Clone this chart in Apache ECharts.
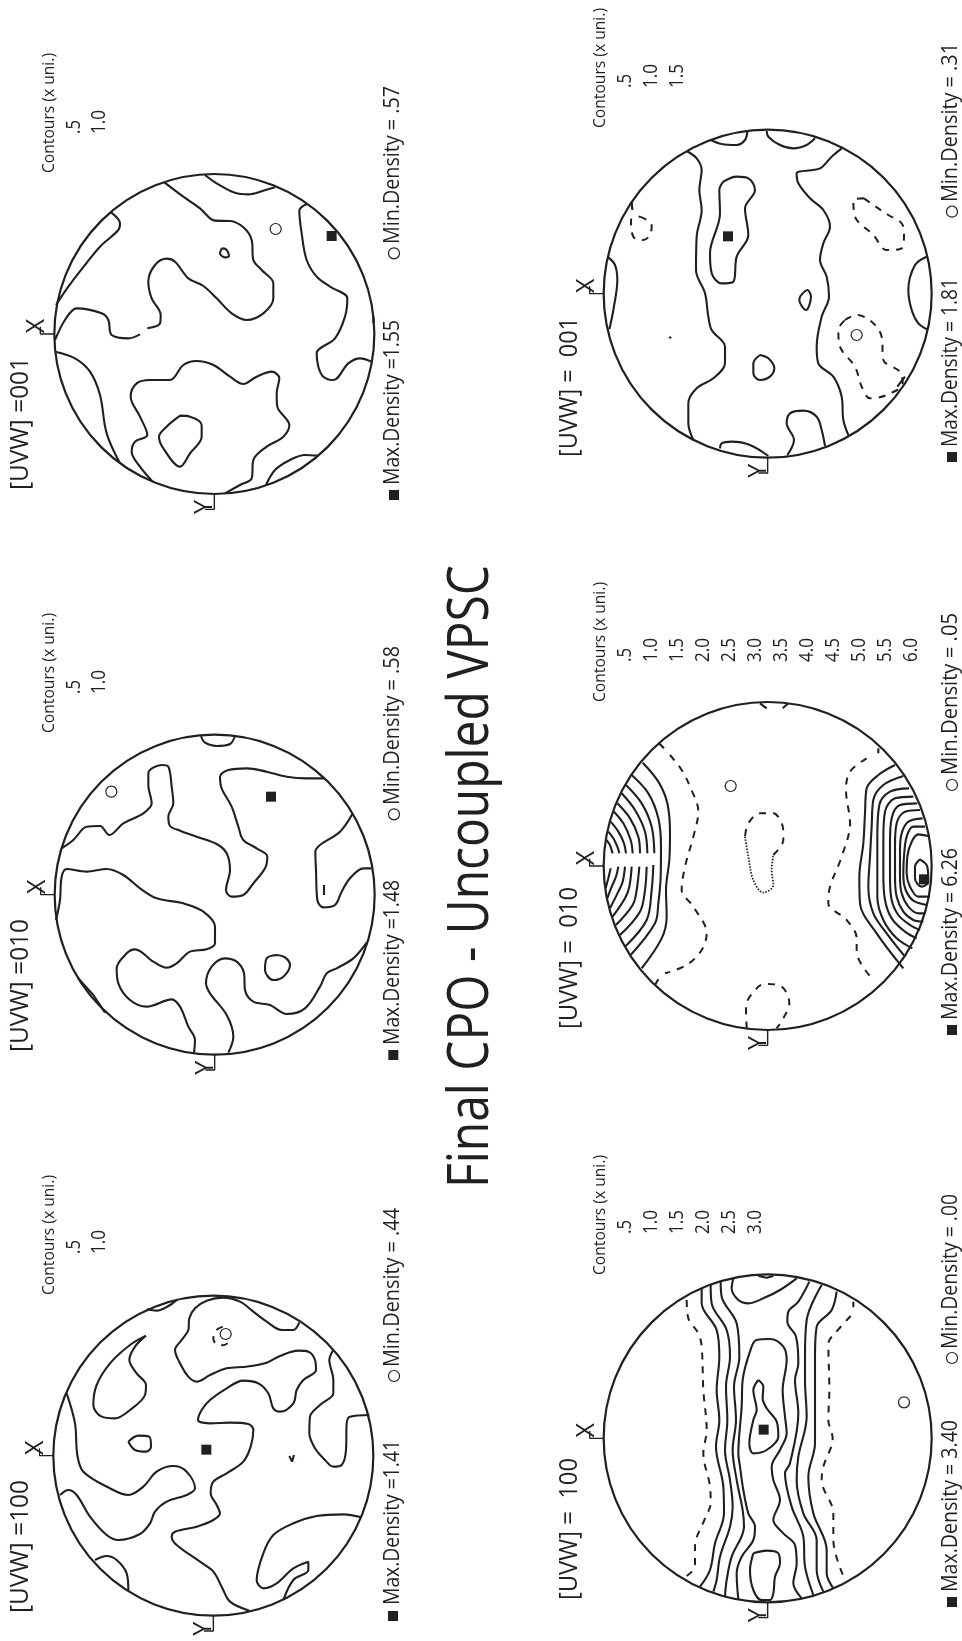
<!DOCTYPE html>
<html><head><meta charset="utf-8">
<style>html,body{margin:0;padding:0;background:#fff}#c{width:962px;height:1641px}</style>
<script src="https://cdn.jsdelivr.net/npm/echarts@6/dist/echarts.min.js"></script>
</head><body><div id="c"></div>
<script>
// ---------- contour traces (stereonet units, 3 per pixel) ----------
const uvw100a = [
 [[320,358],[350,362],[385,348],[412,328]],
 [[778,397],[760,420],[725,420],[680,395],[640,365],[600,335],[550,323],[500,332],[465,355],[448,385],[445,420],[425,450],[405,480],[420,520],[445,560],[470,575],[510,555],[560,535],[620,530],[680,518],[720,498],[775,482],[805,485],[825,510],[828,540],[790,570],[770,600],[760,640],[720,665],[700,655],[685,610],[655,580],[610,572],[560,595],[510,630],[485,660],[474,690],[510,700],[570,698],[625,702],[640,720],[632,770],[610,815],[560,850],[520,875],[512,910],[530,945],[540,970],[520,990],[470,1010],[405,1025],[395,1040],[410,1065],[480,1115],[520,1145],[545,1190],[570,1235],[628,1262]],
 [[60,915],[85,900],[110,915],[150,980],[200,1035],[235,1050],[300,1032],[330,1000],[345,965],[380,935],[440,915],[465,895],[440,845],[400,828],[350,845],[310,890],[265,915],[210,895],[130,845],[112,795],[105,700],[80,610]],
 [[318,437],[270,465],[210,520],[170,585],[160,645],[185,680],[225,685],[270,660],[315,615],[318,585],[290,550],[268,510],[285,470],[318,437]],
 [[265,755],[295,737],[328,740],[333,770],[318,785],[285,780],[265,755]],
 [[880,480],[868,510],[880,570],[880,610],[840,645],[810,680],[808,730],[825,775],[855,810],[880,830],[905,825],[918,780],[920,700],[930,680],[988,675]],
 [[748,798],[756,815],[762,795]],
 [[965,982],[910,973],[830,978],[760,1000],[700,1035],[670,1090],[650,1170],[670,1195],[710,1180],[760,1135],[805,1115],[805,1140],[760,1170],[730,1230]],
 [[165,1110],[200,1098],[230,1110],[260,1150],[265,1200]]
];
const uvw100aDash = [[[548,410],[527,422],[520,445],[528,462],[548,466],[566,458]]];

const uvw010a = [
 [[483,48],[495,68],[530,78],[570,72],[585,48]],
 [[855,175],[800,175],[740,170],[680,155],[620,145],[565,150],[540,170],[545,205],[575,260],[595,320],[610,360],[650,385],[682,410],[675,445],[640,490],[610,525],[575,530],[558,510],[570,450],[560,400],[530,372],[470,350],[420,332],[390,318],[385,290],[400,250],[395,200],[385,140],[365,135],[325,160],[325,195],[335,250],[310,280],[250,310],[208,345],[180,318],[140,320],[100,360],[65,385]],
 [[937,282],[900,335],[840,375],[826,395],[828,450],[832,540],[850,562],[885,555],[905,515],[930,475],[970,445],[995,445]],
 [[852,495],[852,525]],
 [[48,600],[60,540],[65,470],[80,447],[140,455],[200,447],[250,465],[300,505],[350,535],[430,550],[490,575],[525,620],[525,670],[500,688],[450,695],[410,730],[380,743],[340,725],[285,688],[260,700],[230,745],[235,790],[270,840],[320,860],[395,838],[420,860],[445,920],[465,960],[462,998]],
 [[113,773],[160,825],[195,878]],
 [[565,998],[580,950],[560,885],[510,820],[498,790],[515,740],[555,715],[590,725],[612,760],[615,810],[640,845],[690,855],[740,882],[795,865],[840,800],[860,760],[890,745],[940,715],[980,668]],
 [[710,705],[680,715],[675,750],[700,780],[730,770],[750,735],[735,712],[710,705]]
];

const uvw001a = [
 [[495,75],[530,100],[590,130],[625,133],[670,122],[705,112]],
 [[373,97],[430,140],[480,175],[525,212],[570,213],[610,232],[635,270],[640,330],[665,360],[700,400],[700,445],[670,490],[620,510],[575,490],[530,445],[490,408],[445,385],[405,335],[380,326],[345,345],[325,395],[335,445],[362,495],[360,520],[322,535]],
 [[300,553],[265,565],[215,555],[205,510],[185,490],[110,475],[75,510],[45,570]],
 [[213,187],[240,220],[235,240],[180,290],[135,345],[85,410],[48,465]],
 [[800,162],[778,182],[785,250],[800,330],[830,380],[870,410],[922,445],[915,500],[885,565],[830,610],[835,650],[850,680],[880,690],[925,640],[960,625],[995,635]],
 [[1000,500],[1000,520]],
 [[545,295],[540,310],[555,322],[567,318],[558,298],[545,295]],
 [[45,605],[105,625],[150,665],[180,735],[200,850],[240,940]],
 [[555,1030],[600,1005],[635,985],[640,930],[680,890],[730,860],[748,825],[712,770],[710,730],[718,685],[695,665],[650,680],[610,702],[570,680],[520,645],[470,633],[430,645],[390,690],[330,690],[290,700],[272,740],[300,800],[322,855],[285,875],[275,905],[300,950],[338,995]],
 [[420,797],[380,830],[357,860],[370,895],[420,950],[450,910],[485,860],[485,825],[450,800],[420,797]],
 [[678,1005],[705,960],[750,930],[795,915],[835,917]]
];

const uvw100b = [
 [[335,295],[335,340],[380,420],[388,500],[380,600],[388,690],[378,770],[400,890],[402,970],[375,1060],[360,1140],[330,1190]],
 [[362,285],[365,340],[410,420],[420,500],[408,590],[412,690],[405,780],[420,870],[428,950],[420,1010],[390,1100],[380,1170],[370,1205]],
 [[392,275],[395,320],[440,400],[448,500],[432,590],[438,690],[428,780],[440,870],[458,960],[462,1010],[425,1100],[410,1170],[405,1220]],
 [[430,265],[425,295],[445,330],[475,340],[520,325],[570,300],[620,265]],
 [[445,1230],[440,1150],[455,1100],[490,1050],[495,1010],[475,970],[460,900],[450,830],[445,790],[455,650],[458,570],[485,470],[500,450],[540,447],[580,470],[590,510],[578,600],[585,680],[590,730],[570,780],[545,830],[550,870],[570,930],[550,990],[580,1030],[615,1065],[620,1120],[610,1180],[635,1225]],
 [[658,275],[625,335],[595,365],[592,395],[618,440],[625,520],[615,570],[625,670],[600,820],[585,850],[605,950],[640,1040],[645,1130],[670,1215]],
 [[695,285],[650,390],[645,500],[645,570],[650,680],[625,800],[620,870],[640,970],[680,1050],[680,1140],[700,1205]],
 [[740,305],[725,360],[680,410],[675,500],[675,570],[675,760],[655,860],[670,970],[710,1080],[710,1150],[730,1195]],
 [[490,1090],[530,1082],[565,1090],[570,1120],[555,1160],[550,1210],[540,1230],[515,1230],[490,1200],[480,1140],[490,1090]],
 [[505,570],[520,590],[518,625],[530,655],[560,695],[565,740],[530,780],[490,790],[478,760],[490,690],[500,660],[490,600],[505,570]],
 [[505,258],[530,263],[550,258]],
 [[790,335],[790,352]]
];
const uvw100bDash = [
 [[290,330],[295,385],[325,430],[335,470],[340,600],[350,720],[340,790],[360,890],[362,940],[345,985],[315,1070],[315,1120],[305,1145],[280,1165]],
 [[782,378],[735,430],[715,460],[718,600],[715,690],[728,745],[700,830],[695,870],[730,970],[730,1050],[765,1170]]
];

const uvw010b = [
 [[158,218],[205,275],[232,340],[240,430],[238,510],[228,600],[230,680],[215,745],[155,835]],
 [[125,255],[175,310],[205,385],[213,470],[212,560],[205,640],[195,700],[122,795]],
 [[108,285],[155,340],[185,410],[193,490]],[[190,525],[185,600],[170,690],[105,770]],
 [[95,310],[135,360],[165,425],[172,490]],[[170,530],[165,600],[150,665],[90,735]],
 [[82,340],[120,385],[145,440],[150,490]],[[148,530],[140,600],[128,645],[78,705]],
 [[72,365],[100,400],[122,450],[128,490]],[[125,530],[118,590],[105,625],[68,680]],
 [[62,395],[85,425],[102,460],[108,490]],[[105,530],[98,575],[85,605],[60,655]],
 [[55,425],[70,445],[82,470],[88,490]],[[85,530],[78,560],[65,590],[52,625]],
 [[50,450],[60,465],[68,490]],[[62,535],[55,565],[47,595]],
 [[915,225],[865,255],[830,295],[825,370],[820,460],[808,560],[810,640],[860,730],[940,835]],
 [[940,258],[880,285],[850,330],[845,410],[840,500],[835,590],[850,670],[890,730],[945,800]],
 [[957,295],[900,305],[868,345],[862,440],[862,540],[862,620],[880,690],[920,745],[967,775]],
 [[970,320],[915,325],[885,365],[880,450],[880,550],[885,630],[905,685],[945,725],[980,745]],
 [[982,340],[930,345],[905,385],[900,455],[900,560],[905,630],[925,675],[960,705],[990,720]],
 [[990,360],[945,365],[920,400],[915,465],[915,560],[920,620],[940,665],[970,690],[1000,695]],
 [[998,385],[955,395],[935,430],[930,480],[930,560],[935,610],[955,650],[985,670],[1005,670]],
 [[1005,410],[970,410],[950,440],[942,500],[940,560],[947,600],[970,632],[1010,645]],
 [[1015,438],[985,433],[965,455],[952,500],[950,550],[960,590],[985,620],[1020,620]],
 [[990,508],[975,530],[975,565],[995,590],[1015,575],[1012,530],[990,508]],
 [[207,160],[222,175]],[[205,868],[195,885]],[[865,175],[865,190]],
 [[510,40],[530,55]],[[578,55],[595,40]]
];
const uvw010bDash = [
 [[240,195],[275,240],[300,290],[325,365],[310,440],[285,530],[275,600],[310,650],[350,730],[335,780],[290,825],[225,850]],
 [[830,205],[780,245],[768,300],[780,400],[755,500],[720,590],[715,640],[770,690],[800,745],[800,785],[850,870]],
 [[470,1015],[468,950],[505,890],[530,882],[575,890],[598,940],[580,985],[560,1015]],
 [[550,495],[580,450],[580,430],[575,400],[550,370],[510,370],[475,400],[465,440]]
];
const uvw010bDot = [[[465,440],[475,500],[490,570],[520,608],[550,585],[545,540],[550,495]]];

const uvw001b = [
 [[362,60],[395,72],[440,75],[465,60],[472,35]],
 [[530,33],[535,50],[570,75],[610,85],[650,75],[675,55]],
 [[290,93],[320,115],[335,150],[328,210],[335,270],[320,350],[318,450],[345,520],[355,590],[365,630],[405,680],[405,730],[370,775],[320,805],[295,850],[295,910],[310,960]],
 [[755,85],[725,110],[690,145],[620,160],[625,190],[660,235],[700,270],[720,320],[700,370],[690,420],[710,470],[717,530],[695,590],[680,680],[685,730],[730,770],[755,830],[760,900],[775,945]],
 [[400,185],[440,170],[475,175],[495,210],[465,265],[475,345],[440,410],[430,485],[395,490],[365,460],[360,400],[390,280],[388,210],[400,185]],
 [[630,530],[652,510],[663,530],[648,570],[628,540],[630,530]],
 [[510,705],[535,715],[553,745],[540,770],[510,780],[490,760],[490,730],[510,705]],
 [[238,650],[243,655]],
 [[1010,410],[975,435],[955,510],[965,570],[985,610],[1012,628]],
 [[55,412],[75,435],[82,480],[70,570],[58,628]],
 [[390,985],[395,970],[425,965],[480,975],[535,1008]],
 [[592,1005],[612,960],[590,910],[600,880],[640,872],[680,890],[695,930],[705,978]],
 [[125,245],[127,270]],[[922,800],[945,770]]
];
const uvw001bDash = [
 [[150,290],[185,315],[180,345],[160,360],[130,350],[123,300],[150,290]],
 [[822,235],[790,240],[795,290],[850,345],[890,390],[935,385],[942,345],[935,310],[895,285],[850,255],[822,235]],
 [[765,600],[800,585],[845,605],[875,650],[880,720],[930,755],[938,790],[890,825],[840,835],[815,800],[795,740],[750,680],[745,630],[765,600]]
];

// density extremes
const maxPoints = [[499,779],[693,230],[875,258],[521,719],[1002,568],[414,349]];
const minPoints = [[557,432],[214,215],[707,237],[942,637],[422,288],[800,645]];
const headerLabels = ['[UVW] =100','[UVW] =010','[UVW] =001','[UVW] =  100','[UVW] =  010','[UVW] =  001'];
const maxLabels = ['Max.Density =1.41','Max.Density =1.48','Max.Density =1.55','Max.Density = 3.40','Max.Density = 6.26','Max.Density = 1.81'];
const minLabels = ['Min.Density = .44','Min.Density = .58','Min.Density = .57','Min.Density = .00','Min.Density = .05','Min.Density = .31'];
const contourLevels = [
 ['.5','1.0'],['.5','1.0'],['.5','1.0'],
 ['.5','1.0','1.5','2.0','2.5','3.0'],
 ['.5','1.0','1.5','2.0','2.5','3.0','3.5','4.0','4.5','5.0','5.5','6.0'],
 ['.5','1.0','1.5']
];
const titleText = 'Final CPO - Uncoupled VPSC';

// ---------- layout ----------
const INK = '#231f20';
const panels = [
 {crop:[40,1190,360,451], c:[520,797], d:320, solid:uvw100a, dash:uvw100aDash, dot:[], maxKey:[1059,1278], minKey:[1062,558], head:[21,1613,133], maxT:[393,1605,165], minT:[393,1367,159], cont:[49,1295], lev:[74,1254,25.5]},
 {crop:[40,720,360,370],  c:[524,524], d:320, solid:uvw010a, dash:[], dot:[], maxKey:[1060,1005], minKey:[1062,283], head:[21,1052,133], maxT:[393,1045,165], minT:[393,805,159], cont:[49,733], lev:[74,694,25.5]},
 {crop:[40,150,360,370],  c:[523,552], d:320, solid:uvw001a, dash:[], dot:[], maxKey:[1062,1035], minKey:[1062,310], head:[21,490,133], maxT:[393,485,165], minT:[393,244,158], cont:[49,173], lev:[74,134,25.5]},
 {crop:[590,1190,360,451],c:[533,745], d:328, solid:uvw100b, dash:uvw100bDash, dot:[], maxKey:[1086,1236], minKey:[1086,504], head:[570,1600,142], maxT:[951,1592,172], minT:[951,1349,155], cont:[600,1275], lev:[625,1234,26]},
 {crop:[590,690,360,370], c:[533,528], d:328, solid:uvw010b, dash:uvw010bDash, dot:uvw010bDot, maxKey:[1086,1020], minKey:[1086,285], head:[570,1029,142], maxT:[951,1020,172], minT:[951,775,162], cont:[600,702], lev:[625,662,26]},
 {crop:[590,120,360,370], c:[533,521], d:328, solid:uvw001b, dash:uvw001bDash, dot:[], maxKey:[1086,1011], minKey:[1086,275], head:[570,457,140], maxT:[951,447,169], minT:[951,202,159], cont:[600,128], lev:[625,88,26]}
];

const chart = echarts.init(document.getElementById('c'), null, {renderer:'canvas'});
const mctx = document.createElement('canvas').getContext('2d');
function upText(text, x, y, len, size, weight){
  const font = (weight||400)+' '+size+'px "Open Sans"';
  mctx.font = font;
  const w = mctx.measureText(text).width;
  return {type:'text', x:x, y:y, rotation:Math.PI/2, scaleX: len? len/w : 1,
    style:{text:text, fill:INK, font:font, textAlign:'left', textVerticalAlign:'middle'}, silent:true};
}

const grids=[], xAxes=[], yAxes=[], series=[], graphic=[];
const lineBase = {type:'line', showSymbol:false, symbol:'none', clip:false, animation:false, silent:true, z:3};
panels.forEach((p,i)=>{
  grids.push({left:p.crop[0], top:p.crop[1], width:p.crop[2], height:p.crop[3], show:false, containLabel:false});
  xAxes.push({type:'value', gridIndex:i, min:0, max:p.crop[2]*3, show:false});
  yAxes.push({type:'value', gridIndex:i, min:0, max:p.crop[3]*3, inverse:true, show:false});
  const ax = {xAxisIndex:i, yAxisIndex:i};
  p.solid.forEach(d=>series.push({...lineBase,...ax,data:d,smooth:d.length>3?0.35:false,lineStyle:{color:INK,width:2.1}}));
  p.dash.forEach(d=>series.push({...lineBase,...ax,data:d,smooth:0.35,lineStyle:{color:INK,width:2,type:[7,7]}}));
  p.dot.forEach(d=>series.push({...lineBase,...ax,data:d,smooth:0.35,lineStyle:{color:INK,width:1.8,type:[1.5,1.5]}}));
  // primitive circle
  series.push({type:'scatter',...ax,clip:false,animation:false,silent:true,z:4,data:[p.c],symbol:'circle',symbolSize:p.d,
    itemStyle:{color:'rgba(0,0,0,0)',borderColor:INK,borderWidth:2.2,opacity:1}});
  // X / Y reference ticks
  const r=p.d*1.5, left=p.c[0]-r, bot=p.c[1]+r;
  series.push({...lineBase,...ax,data:[[left,p.c[1]],[left-42,p.c[1]],[left-42,p.c[1]-22]],lineStyle:{color:INK,width:1.4}});
  series.push({...lineBase,...ax,data:[[p.c[0],bot],[p.c[0],bot+46],[p.c[0]-28,bot+46]],lineStyle:{color:INK,width:1.4}});
  // maxima, minima and their legend keys
  series.push({type:'scatter',...ax,clip:false,animation:false,silent:true,z:5,data:[maxPoints[i],p.maxKey],symbol:'rect',symbolSize:10,itemStyle:{color:INK,opacity:1}});
  series.push({type:'scatter',...ax,clip:false,animation:false,silent:true,z:5,data:[minPoints[i],p.minKey],symbol:'circle',symbolSize:11,
    itemStyle:{color:'rgba(0,0,0,0)',borderColor:INK,borderWidth:1.2,opacity:1}});
  // texts
  graphic.push(upText(headerLabels[i],p.head[0],p.head[1],p.head[2],25));
  graphic.push(upText(maxLabels[i],p.maxT[0],p.maxT[1],p.maxT[2],22));
  graphic.push(upText(minLabels[i],p.minT[0],p.minT[1],p.minT[2],22));
  graphic.push(upText('Contours (x uni.)',p.cont[0],p.cont[1],120,17));
  contourLevels[i].forEach((t,k)=>graphic.push(upText(t,p.lev[0]+k*p.lev[2],p.lev[1],t.length>2?24:14,20)));
  const sx=p.crop[0]+(left-42)/3, sy=p.crop[1]+p.c[1]/3;
  graphic.push({type:'text',x:sx-3,y:sy-8,rotation:Math.PI/2,style:{text:'X',fill:INK,font:'400 25px "Open Sans"',textAlign:'center',textVerticalAlign:'middle'},silent:true});
  const yx=p.crop[0]+p.c[0]/3-9, yy=p.crop[1]+bot/3+13;
  graphic.push({type:'text',x:yx,y:yy,rotation:Math.PI/2,style:{text:'Y',fill:INK,font:'400 25px "Open Sans"',textAlign:'center',textVerticalAlign:'middle'},silent:true});
});
graphic.push(upText(titleText,472,1188,623,56,400));

chart.setOption({animation:false, backgroundColor:'#fff', grid:grids, xAxis:xAxes, yAxis:yAxes, series:series, graphic:{elements:graphic}});
</script></body></html>
